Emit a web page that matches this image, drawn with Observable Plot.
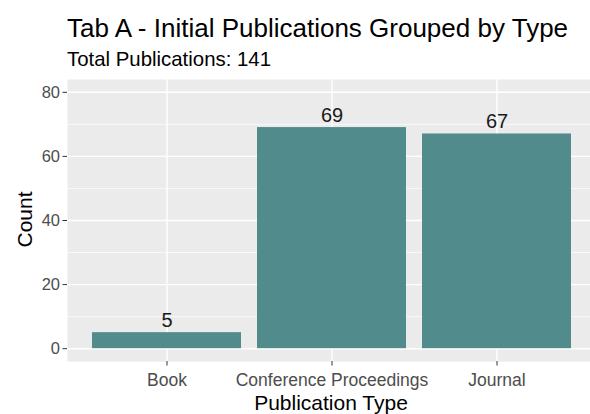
<!DOCTYPE html>
<html><head><meta charset="utf-8">
<script src="https://cdn.jsdelivr.net/npm/d3@7"></script>
<script src="https://cdn.jsdelivr.net/npm/@observablehq/plot@0.6"></script>
<style>
body{margin:0;background:#fff;font-family:"Liberation Sans",Arial,sans-serif;}
#wrap{position:relative;width:590px;height:414px;overflow:hidden;background:#fff;}
.t{position:absolute;white-space:nowrap;color:#000;line-height:1;}
</style></head><body>
<div id="wrap">
<div id="chart" style="position:absolute;left:0;top:0"></div>
<div class="t" style="left:67px;top:15px;font-size:26px;">Tab A - Initial Publications Grouped by Type</div>
<div class="t" style="left:67px;top:49px;font-size:20.4px;">Total Publications: 141</div>
<div class="t" style="left:231px;width:200px;text-align:center;top:392px;font-size:21px;">Publication Type</div>
<div class="t" style="left:-26px;width:100px;text-align:center;top:209px;font-size:21px;transform:rotate(-90deg);">Count</div>
</div>
<script>
const categories = ["Book", "Conference Proceedings", "Journal"];
const counts = [5, 69, 67];
const yTicks = [0, 20, 40, 60, 80];
const yMinor = [10, 30, 50, 70];
const data = categories.map((c, i) => ({type: c, count: counts[i]}));

const chart = Plot.plot({
  width: 590, height: 414,
  marginTop: 79, marginBottom: 53, marginLeft: 67, marginRight: 0,
  style: {background: "transparent", fontFamily: "Liberation Sans, Arial, sans-serif", overflow: "hidden"},
  x: {domain: categories, range: [67, 595], paddingInner: 0.1, paddingOuter: 0.15, label: null},
  y: {domain: [-4, 84], label: null},
  marks: [
    Plot.frame({fill: "#EBEBEB", stroke: null}),
    Plot.ruleY(yMinor, {stroke: "white", strokeWidth: 0.7}),
    Plot.ruleY(yTicks, {stroke: "white", strokeWidth: 1.4}),
    Plot.gridX({stroke: "white", strokeOpacity: 1, strokeWidth: 1.4}),
    Plot.barY(data, {x: "type", y: "count", fill: "#528B8B"}),
    Plot.text(data, {x: "type", y: "count", text: d => String(d.count), dy: -12, fontSize: 20, fill: "#1a1a1a"}),
    Plot.axisY({ticks: yTicks, tickSize: 4.5, tickPadding: 3, fontSize: 16.5, stroke: "#333", fill: "#4D4D4D", label: null}),
    Plot.axisX({tickSize: 4.5, tickPadding: 8, fontSize: 17.5, stroke: "#333", fill: "#4D4D4D", label: null})
  ]
});
document.getElementById("chart").appendChild(chart);
</script>
</body></html>
